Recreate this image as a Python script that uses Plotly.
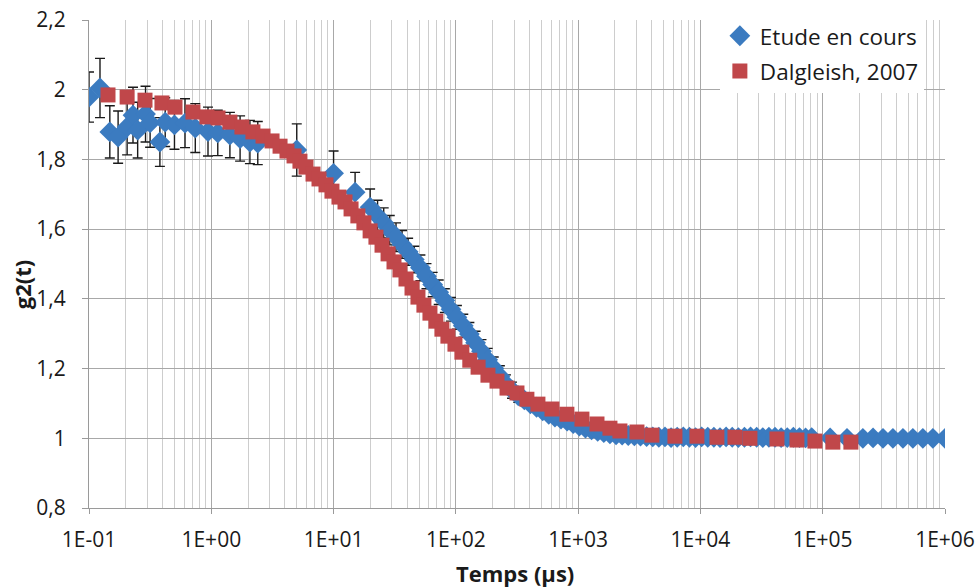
import plotly.graph_objects as go

# ---- Data: "Etude en cours" (blue diamonds, with error bars) ----
etude_t = [0.100, 0.123, 0.148, 0.173, 0.205, 0.229, 0.250, 0.290, 0.316, 0.38, 0.42, 0.50,
           0.61, 0.74, 0.94, 1.13, 1.42, 1.72, 2.07, 2.40, 5.0, 10.0, 15.0, 19.9,
           22.9, 25.7, 28.8, 32.4, 36.3, 40.7, 45.7, 51.3, 57.5, 64.6, 72.4, 81.3, 91.2,
           102, 115, 129, 145, 162, 182, 204, 229, 257, 288, 324, 363, 407, 457, 513, 575,
           646, 724, 813, 912, 1023, 1148, 1288, 1445, 1622, 1820, 2042, 2291, 2570, 2884,
           3236, 3631, 4074, 4571, 5129, 5754, 6457, 7244, 8128, 9120, 10230, 11480, 12880,
           14450, 16220, 18200, 20420, 22910, 25700, 28840, 32360, 36310, 40740, 45710,
           51290, 57540, 64570, 72440, 81280,
           115000, 158000, 213000, 258000, 311000, 375000, 453000, 546000, 659000, 796000, 1000000]
etude_g2 = [1.979, 2.005, 1.879, 1.864, 1.893, 1.927, 1.884, 1.930, 1.905, 1.850, 1.907, 1.899,
            1.904, 1.890, 1.880, 1.876, 1.870, 1.860, 1.850, 1.847, 1.827, 1.760, 1.706, 1.663,
            1.638, 1.618, 1.597, 1.577, 1.556, 1.535, 1.513, 1.489, 1.465, 1.441, 1.419, 1.395, 1.370,
            1.347, 1.323, 1.299, 1.274, 1.250, 1.225, 1.201, 1.178, 1.155, 1.138, 1.122, 1.110, 1.099,
            1.089, 1.079, 1.069, 1.061, 1.055, 1.049, 1.042, 1.035, 1.029, 1.024, 1.020, 1.016, 1.013,
            1.010, 1.009, 1.008, 1.007, 1.006, 1.005, 1.004, 1.003, 1.004, 1.002, 1.003, 1.004, 1.003,
            1.002, 1.004, 1.003, 1.003, 1.002, 1.004, 1.003, 1.002, 1.003, 1.004, 1.003, 1.002, 1.003,
            1.003, 1.002, 1.002, 1.003, 1.002, 1.001, 1.002,
            1.001, 1.000, 1.000, 1.001, 1.000, 1.000, 1.000, 1.000, 1.000, 1.000, 1.000]
etude_err = [0.072, 0.085, 0.075, 0.075, 0.080, 0.080, 0.080, 0.080, 0.070, 0.070, 0.070, 0.070,
             0.070, 0.070, 0.070, 0.065, 0.065, 0.065, 0.062, 0.062, 0.075, 0.064, 0.057, 0.052,
             0.045, 0.043, 0.042, 0.041, 0.040, 0.039, 0.038, 0.037, 0.036, 0.035, 0.035, 0.034, 0.034,
             0.034, 0.033, 0.033, 0.033, 0.033, 0.033, 0.032, 0.030, 0.027, 0.023, 0.019, 0.015, 0.012,
             0.010, 0.009, 0.008, 0.007, 0.006, 0.006, 0.005, 0.005, 0.004, 0.004, 0.004, 0.004, 0.003,
             0.003, 0.003, 0.003, 0.003, 0.003, 0.003, 0.003, 0.003, 0.003, 0.003, 0.003, 0.003, 0.003,
             0.003, 0.003, 0.003, 0.003, 0.003, 0.003, 0.003, 0.003, 0.003, 0.003, 0.003, 0.003, 0.003,
             0.003, 0.003, 0.003, 0.003, 0.003, 0.003, 0.003,
             0.003, 0.003, 0.003, 0.003, 0.003, 0.003, 0.003, 0.003, 0.003, 0.003, 0.003]

# ---- Data: "Dalgleish, 2007" (red squares) ----
dalg_t = [0.143, 0.205, 0.287, 0.395, 0.505, 0.708, 0.922, 1.135, 1.42, 1.78, 2.19, 2.65, 3.14,
          3.65, 4.16, 4.75, 5.31, 5.95, 6.79, 7.60, 8.67, 9.70, 11.07, 12.4, 13.9, 15.8, 17.7,
          19.9, 22.2, 24.9, 27.9, 31.2, 34.9, 39.1, 43.8, 49.0, 54.8, 61.4, 68.7, 76.9, 86.1,
          98.3, 112, 130, 152, 183, 217, 262, 316, 381, 469, 611, 809, 1074, 1426, 1820, 2196,
          3027, 4012, 6188, 9357, 13640, 19150, 25400, 42250, 61550, 86360, 121000, 170000]
dalg_g2 = [1.985, 1.979, 1.970, 1.962, 1.950, 1.936, 1.922, 1.919, 1.907, 1.893, 1.879, 1.867, 1.853,
           1.838, 1.824, 1.810, 1.795, 1.778, 1.758, 1.744, 1.727, 1.709, 1.692, 1.678, 1.658, 1.638,
           1.618, 1.595, 1.577, 1.554, 1.529, 1.506, 1.483, 1.457, 1.431, 1.405, 1.382, 1.359, 1.336,
           1.313, 1.293, 1.270, 1.247, 1.224, 1.204, 1.181, 1.164, 1.144, 1.130, 1.112, 1.098, 1.084,
           1.069, 1.055, 1.041, 1.029, 1.021, 1.018, 1.009, 1.006, 1.006, 1.003, 1.003, 1.000, 0.998,
           0.995, 0.992, 0.989, 0.989]

x_tickvals = [0.1, 1, 10, 100, 1000, 10000, 100000, 1000000]
x_ticktext = ["1E-01", "1E+00", "1E+01", "1E+02", "1E+03", "1E+04", "1E+05", "1E+06"]
x_minor = [m * d for d in [0.1, 1, 10, 100, 1000, 10000, 100000] for m in range(2, 10)]

BLUE = "#3B7BC0"
RED = "#C0474A"
FONT = "'Open Sans', 'Noto Sans', sans-serif"
TXT = "#1a1a1a"

fig = go.Figure()
fig.add_trace(go.Scatter(
    x=etude_t, y=etude_g2, mode="markers", name="Etude en cours",
    marker=dict(symbol="diamond", size=16, color=BLUE, line=dict(width=0)),
    error_y=dict(type="data", array=etude_err, visible=True, color=TXT,
                 thickness=1.4, width=5),
    legendgroup="a",
))
fig.add_trace(go.Scatter(
    x=dalg_t, y=dalg_g2, mode="markers", name="Dalgleish, 2007",
    marker=dict(symbol="square", size=15, color=RED, line=dict(width=0)),
    legendgroup="b",
))

fig.update_layout(
    width=977, height=588,
    margin=dict(l=89, r=32, t=20, b=80, autoexpand=False),
    paper_bgcolor="white", plot_bgcolor="white",
    separators=", ",
    font=dict(family=FONT, size=21, color=TXT),
    showlegend=True,
    legend=dict(x=0.737, y=1.011, xanchor="left", yanchor="top",
                bgcolor="white", borderwidth=0, traceorder="grouped",
                tracegroupgap=3, font=dict(size=22.5, family=FONT, color=TXT),
                itemsizing="trace"),
    xaxis=dict(
        type="log", range=[-1, 6], automargin=False,
        tickmode="array", tickvals=x_tickvals, ticktext=x_ticktext,
        showgrid=True, gridcolor="#a8a8a8", gridwidth=1,
        showline=True, linecolor="#9a9a9a", linewidth=1,
        ticks="outside", ticklen=5, tickcolor="#9a9a9a",
        tickfont=dict(size=21), ticklabelstandoff=8, ticklabeloverflow="allow",
        minor=dict(tickmode="array", tickvals=x_minor, showgrid=True,
                   gridcolor="#cdcdcd", gridwidth=1, ticks=""),
        zeroline=False,
    ),
    yaxis=dict(
        range=[0.8, 2.2], dtick=0.2, tick0=0.8, automargin=False,
        showgrid=True, gridcolor="#a8a8a8", gridwidth=1,
        showline=True, linecolor="#9a9a9a", linewidth=1,
        ticks="outside", ticklen=6, tickcolor="#9a9a9a",
        tickfont=dict(size=21), ticklabelstandoff=12, ticklabeloverflow="allow",
        zeroline=False,
    ),
    annotations=[
        dict(text="<b>Temps (µs)</b>", xref="paper", yref="paper", x=0.498, y=-0.133,
             xanchor="center", yanchor="middle", showarrow=False,
             font=dict(size=22, family=FONT, color=TXT)),
        dict(text="<b>g2(t)</b>", xref="paper", yref="paper", x=-0.078, y=0.457,
             xanchor="center", yanchor="middle", showarrow=False, textangle=-90,
             font=dict(size=22, family=FONT, color=TXT)),
    ],
)

fig.write_html("out.html",
               config={"displayModeBar": False},
               post_script="document.body.style.margin='0px';"
                           "document.body.style.overflow='hidden';")
